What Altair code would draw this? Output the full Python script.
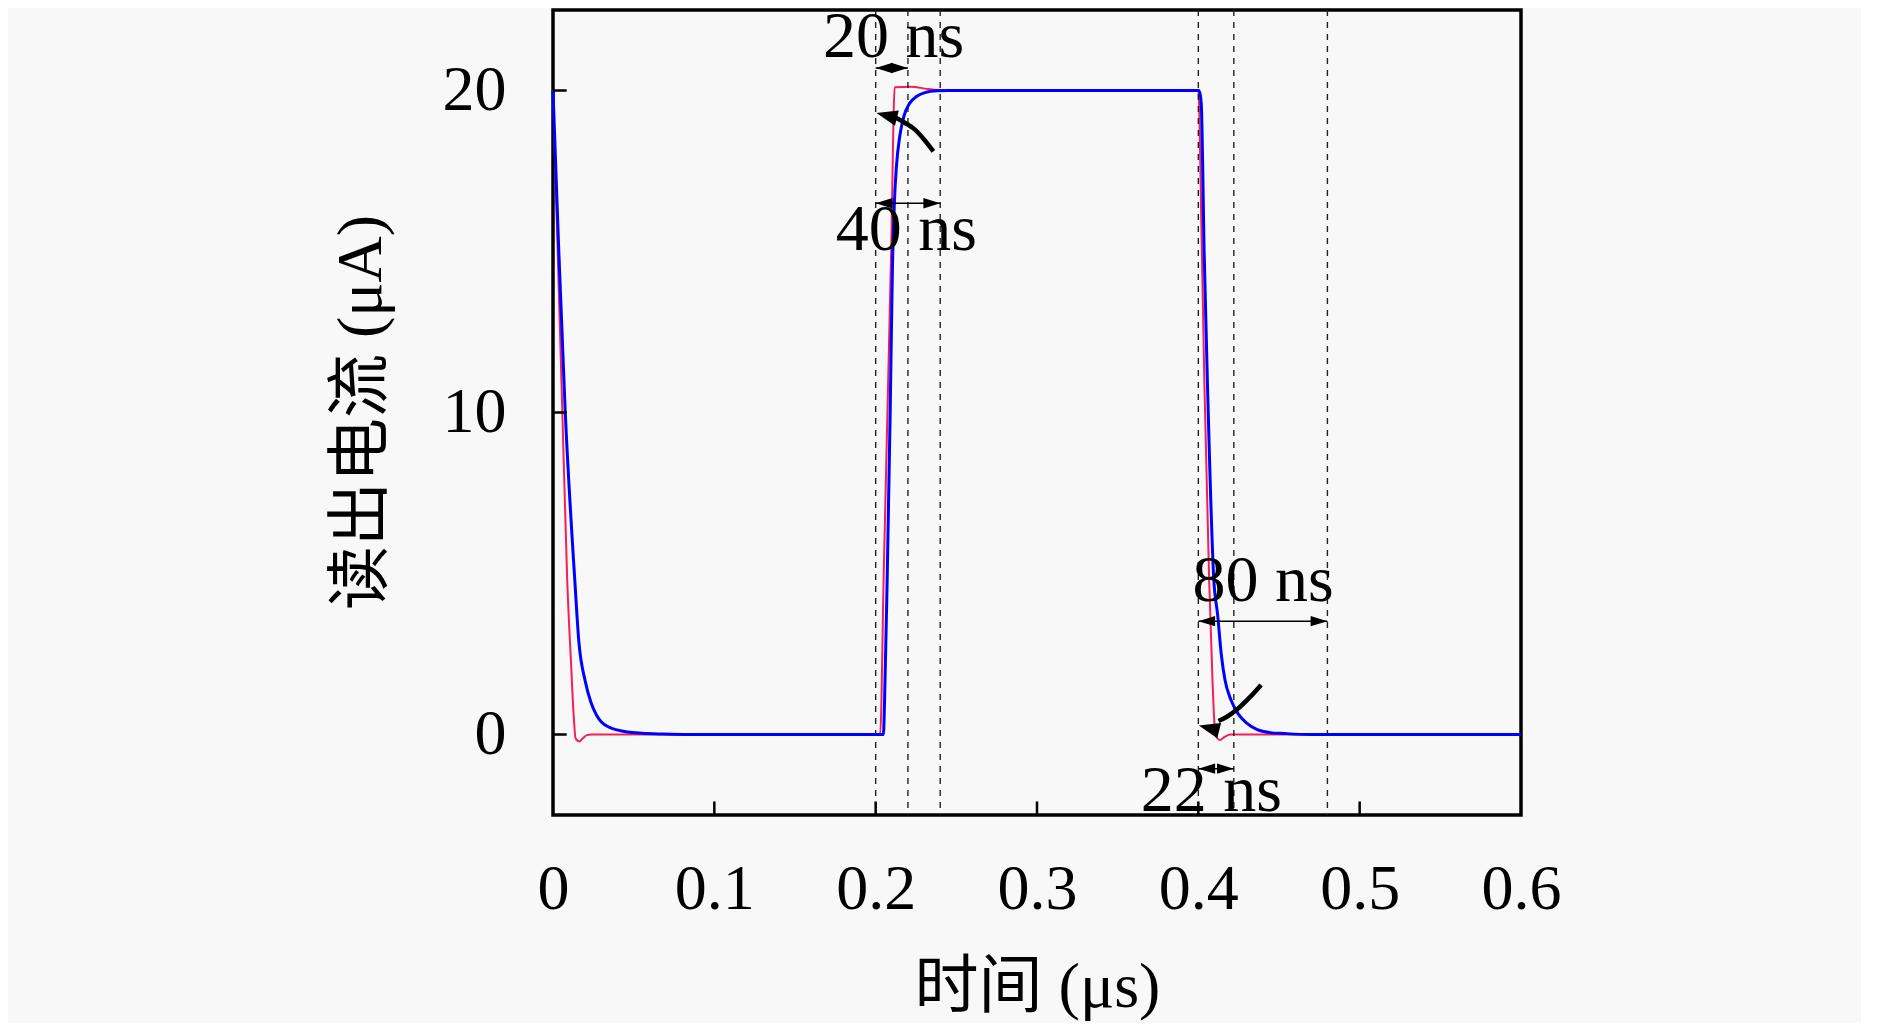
import altair as alt
import pandas as pd

# ---- data -------------------------------------------------------------------
# red curve (time in us, current in uA)
t_red = [0.0, 0.0029, 0.0058, 0.0088, 0.0112, 0.0128, 0.0140, 0.0163, 0.0185, 0.0210, 0.0240,
         0.2028, 0.2050, 0.2073, 0.2096, 0.2118, 0.2220, 0.2320, 0.2450,
         0.4000, 0.4020, 0.4038, 0.4067, 0.4088, 0.4102, 0.4115, 0.4135, 0.4160, 0.4200, 0.6000]
i_red = [20.0, 15.0, 10.0, 4.8, 2.2, 0.6, -0.12, -0.22, -0.12, -0.02, 0.0,
         0.0, 5.0, 10.0, 15.0, 20.1, 20.12, 20.05, 20.0,
         20.0, 15.5, 10.8, 4.8, 1.65, 0.2, -0.1, -0.17, -0.08, 0.0, 0.0]

# blue curve
t_blue = [0.0, 0.0036, 0.0076, 0.0135, 0.0160, 0.0200, 0.0235, 0.0270, 0.0300, 0.0350, 0.0390,
          0.0460, 0.0550, 0.0680, 0.0850,
          0.2048, 0.2055, 0.2072, 0.2090, 0.2104, 0.2115, 0.2128, 0.2150, 0.2175, 0.2210, 0.2255,
          0.2310, 0.2380, 0.2450,
          0.4005, 0.4018, 0.4036, 0.4057, 0.4096, 0.4120, 0.4142, 0.4165, 0.4200, 0.4247, 0.4300,
          0.4365, 0.4440, 0.4536, 0.4700, 0.6000]
i_blue = [20.0, 15.0, 10.0, 4.8, 2.9, 1.65, 1.0, 0.6, 0.39, 0.22, 0.15,
          0.08, 0.04, 0.015, 0.0,
          0.0, 1.0, 5.0, 10.0, 14.5, 16.4, 17.6, 18.6, 19.2, 19.6, 19.82,
          19.94, 19.99, 20.0,
          20.0, 19.6, 15.0, 10.8, 4.8, 3.7, 2.5, 1.7, 1.1, 0.64, 0.35,
          0.15, 0.06, 0.03, 0.0, 0.0]

x_ticks = [0, 0.1, 0.2, 0.3, 0.4, 0.5, 0.6]
x_inner_ticks = [0.1, 0.2, 0.3, 0.4, 0.5]
y_ticks = [0, 10, 20]

guide_times = [0.2, 0.22, 0.24, 0.4, 0.422, 0.48]

span_start = [0.2, 0.2, 0.4, 0.4]
span_end = [0.22, 0.24, 0.48, 0.422]
span_y = [20.7, 16.5, 3.52, -1.06]

label_text = ["20 ns", "40 ns", "80 ns", "22 ns"]
label_t = [0.2111, 0.2190, 0.4402, 0.4080]
label_y = [21.67, 15.66, 4.76, -1.76]

curve1_t = [0.2358, 0.2300, 0.2240, 0.2180, 0.2125]
curve1_y = [18.11, 18.48, 18.80, 19.00, 19.15]
curve2_t = [0.4389, 0.4320, 0.4245, 0.4180, 0.4125]
curve2_y = [1.54, 1.16, 0.80, 0.56, 0.42]
head_t = [0.2005, 0.4003]
head_y = [19.30, 0.28]

X_DOMAIN = [0, 0.6]
Y_DOMAIN = [-2.5, 22.5]
TICK_LEN_Y = 0.42     # data units of inward x-ticks
TICK_LEN_X = 0.0085   # data units of inward y-ticks

SERIF = "Liberation Serif, Noto Sans CJK SC"
BG = "#f8f8f8"

# ---- tables ----------------------------------------------------------------
df_red = pd.DataFrame({"t": t_red, "I": i_red})
df_blue = pd.DataFrame({"t": t_blue, "I": i_blue})
df_guides = pd.DataFrame({"t": guide_times})
df_xt = pd.DataFrame({"t": x_inner_ticks, "I": [Y_DOMAIN[0]] * 5,
                      "I2": [Y_DOMAIN[0] + TICK_LEN_Y] * 5})
df_yt = pd.DataFrame({"t": [0.0] * 3, "t2": [TICK_LEN_X] * 3, "I": y_ticks})
df_span = pd.DataFrame({"t": span_start, "t2": span_end, "I": span_y})
df_lab = pd.DataFrame({"t": label_t, "I": label_y, "txt": label_text})
df_curve = pd.DataFrame({"t": curve1_t + curve2_t, "I": curve1_y + curve2_y,
                         "g": ["a"] * 5 + ["b"] * 5})
df_head = pd.DataFrame({"t": head_t, "I": head_y})

xs = alt.Scale(domain=X_DOMAIN, nice=False, zero=False)
ys = alt.Scale(domain=Y_DOMAIN, nice=False, zero=False)

x_axis = alt.Axis(values=x_ticks, format="~g", labelBaseline="alphabetic",
                  labelPadding=93, labelFlush=False,
                  titleX=484, titleY=172, titleBaseline="middle", titleAlign="center")
y_axis = alt.Axis(values=y_ticks, format="d", labelAlign="right", labelBaseline="middle",
                  labelPadding=47, titleX=-192, titleY=402, titleAngle=270,
                  titleBaseline="middle", titleAlign="center")
X = alt.X("t:Q", scale=xs, title="时间 (μs)", axis=x_axis)
X2 = alt.X("t2:Q", scale=xs, title="时间 (μs)", axis=x_axis)
Y = alt.Y("I:Q", scale=ys, title="读出电流 (μA)", axis=y_axis)

red = alt.Chart(df_red).mark_line(color="#f51e55", strokeWidth=2, interpolate="monotone").encode(
    x=X, y=Y,
)
blue = alt.Chart(df_blue).mark_line(color="#0000ff", strokeWidth=3, interpolate="monotone").encode(
    x=X, y=Y,
)
guides = alt.Chart(df_guides).mark_rule(color="#222222", strokeWidth=1.4, strokeDash=[6, 6]).encode(
    x=X,
)
xticks = alt.Chart(df_xt).mark_rule(color="black", strokeWidth=2.5).encode(
    x=X, y=Y, y2="I2:Q",
)
yticks = alt.Chart(df_yt).mark_rule(color="black", strokeWidth=2.5).encode(
    x=X, x2="t2:Q", y=Y,
)
spans = alt.Chart(df_span).mark_rule(color="black", strokeWidth=1.5).encode(
    x=X, x2="t2:Q", y=Y,
)
left_heads = alt.Chart(df_span).mark_point(
    shape="M0,0L4.2,-1.3L4.2,1.3Z", size=64, filled=True, color="black", opacity=1, strokeWidth=0
).encode(x=X, y=Y)
right_heads = alt.Chart(df_span).mark_point(
    shape="M0,0L-4.2,-1.3L-4.2,1.3Z", size=64, filled=True, color="black", opacity=1, strokeWidth=0
).encode(x=X2, y=Y)
curves = alt.Chart(df_curve).mark_line(color="black", strokeWidth=4.5, interpolate="monotone").encode(
    x=X, y=Y, detail="g:N",
)
curve_heads = alt.Chart(df_head).mark_point(
    shape="M0,0L4,-1.5L4,1.5Z", size=110, filled=True, color="black", opacity=1, strokeWidth=0,
    angle=14
).encode(x=X, y=Y)
labels = alt.Chart(df_lab).mark_text(
    font=SERIF, fontSize=66, align="center", baseline="middle", color="black"
).encode(x=X, y=Y, text="txt:N")

chart = alt.layer(
    red, guides, blue, xticks, yticks, spans, left_heads, right_heads, curves, curve_heads, labels
).properties(
    width=968, height=805,
    autosize=alt.AutoSizeParams(type="none"),
    padding={"left": 545, "top": 2, "right": 340, "bottom": 208},
).configure(
    background=BG,
).configure_axis(
    grid=False, domain=False, ticks=False, tickSize=0,
    labelFont=SERIF, labelFontSize=64, labelColor="black",
    titleFont=SERIF, titleFontSize=64, titleFontWeight="normal", titleColor="black",
).configure_view(
    stroke="black", strokeWidth=3.5, fill=BG,
)

chart.save("out.html", embed_options={"renderer": "svg", "actions": False})
